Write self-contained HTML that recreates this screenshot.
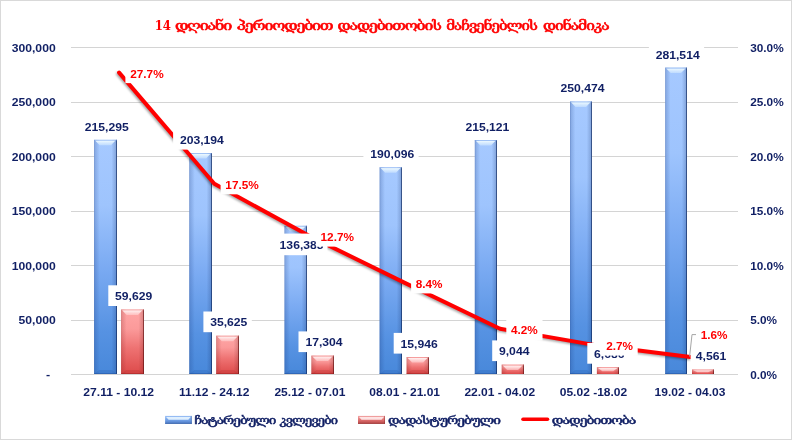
<!DOCTYPE html>
<html lang="ka"><head><meta charset="utf-8"><title>14 დღიანი პერიოდებით დადებითობის მაჩვენებლის დინამიკა</title>
<style>
html,body{margin:0;padding:0;background:#fff;}
body{width:792px;height:440px;overflow:hidden;}
svg{display:block;}
.n{font-family:"Liberation Sans",sans-serif;font-weight:bold;font-size:11.1px;fill:#101f64;}
.r{font-family:"Liberation Sans",sans-serif;font-weight:bold;font-size:11.1px;fill:#ff0000;}
</style></head><body>
<svg width="792" height="440" viewBox="0 0 792 440">
<defs>
<linearGradient id="gb" x1="0" y1="0" x2="0" y2="1">
<stop offset="0" stop-color="#a6c9ff"/><stop offset="0.28" stop-color="#9ec4fd"/><stop offset="0.55" stop-color="#7aaaf2"/><stop offset="0.82" stop-color="#5692e2"/><stop offset="1" stop-color="#4888da"/>
</linearGradient>
<linearGradient id="gr" x1="0" y1="0" x2="0" y2="1">
<stop offset="0" stop-color="#ffa6a6"/><stop offset="0.3" stop-color="#fb9a9a"/><stop offset="0.6" stop-color="#ee7272"/><stop offset="1" stop-color="#dd4a4a"/>
</linearGradient>
<linearGradient id="edge" x1="0" y1="0" x2="1" y2="0">
<stop offset="0" stop-color="#1a3a80" stop-opacity="0.42"/><stop offset="0.05" stop-color="#1a3a80" stop-opacity="0.2"/><stop offset="0.24" stop-color="#1a3a80" stop-opacity="0.0"/>
<stop offset="0.76" stop-color="#10285e" stop-opacity="0.0"/><stop offset="1" stop-color="#10285e" stop-opacity="0.26"/>
</linearGradient>
<linearGradient id="edger" x1="0" y1="0" x2="1" y2="0">
<stop offset="0" stop-color="#801a1a" stop-opacity="0.36"/><stop offset="0.05" stop-color="#801a1a" stop-opacity="0.18"/><stop offset="0.24" stop-color="#801a1a" stop-opacity="0.0"/>
<stop offset="0.76" stop-color="#5e1010" stop-opacity="0.0"/><stop offset="1" stop-color="#5e1010" stop-opacity="0.24"/>
</linearGradient>
<linearGradient id="hlb" x1="0" y1="0" x2="0" y2="1"><stop offset="0" stop-color="#f0fbff" stop-opacity="1"/><stop offset="1" stop-color="#d4eaff" stop-opacity="0.55"/></linearGradient>
<linearGradient id="hlr" x1="0" y1="0" x2="0" y2="1"><stop offset="0" stop-color="#fff4f4" stop-opacity="1"/><stop offset="1" stop-color="#ffd6d6" stop-opacity="0.55"/></linearGradient>
<filter id="sh" x="-5%" y="-5%" width="110%" height="110%"><feGaussianBlur stdDeviation="1"/></filter>
</defs>
<rect x="0" y="0" width="792" height="440" fill="#ffffff"/>
<rect x="0.5" y="0.5" width="791" height="439" fill="none" stroke="#d9d9d9" stroke-width="1"/>

<rect x="71" y="47" width="667" height="1" fill="#d4d4d4"/>
<rect x="71" y="102" width="667" height="1" fill="#d4d4d4"/>
<rect x="71" y="156" width="667" height="1" fill="#d4d4d4"/>
<rect x="71" y="211" width="667" height="1" fill="#d4d4d4"/>
<rect x="71" y="265" width="667" height="1" fill="#d4d4d4"/>
<rect x="71" y="320" width="667" height="1" fill="#d4d4d4"/>
<rect x="94.1" y="139.8" width="22.9" height="234.2" fill="url(#gb)"/><rect x="94.1" y="139.8" width="22.9" height="234.2" fill="url(#edge)"/><rect x="116.0" y="139.8" width="1" height="234.2" fill="#0c2358" fill-opacity="0.62"/><polygon points="95.1,140.6 115.5,140.6 111.0,145.3 99.6,145.3" fill="url(#hlb)"/><rect x="94.1" y="139.8" width="22.9" height="0.9" fill="#7fa6e6" fill-opacity="0.45"/><polygon points="94.6,374.0 116.5,374.0 112.0,370.0 99.1,370.0" fill="#1d4f9e" fill-opacity="0.18"/><rect x="94.1" y="373.1" width="22.9" height="0.9" fill="#1d4f9e" fill-opacity="0.5"/>
<rect x="121.1" y="309.5" width="22.9" height="64.5" fill="url(#gr)"/><rect x="121.1" y="309.5" width="22.9" height="64.5" fill="url(#edger)"/><rect x="143.0" y="309.5" width="1" height="64.5" fill="#5a0d0d" fill-opacity="0.62"/><polygon points="122.1,310.3 142.5,310.3 138.0,315.0 126.6,315.0" fill="url(#hlr)"/><rect x="121.1" y="309.5" width="22.9" height="0.9" fill="#e88a8a" fill-opacity="0.45"/><polygon points="121.6,374.0 143.5,374.0 139.0,370.0 126.1,370.0" fill="#9e1d1d" fill-opacity="0.18"/><rect x="121.1" y="373.1" width="22.9" height="0.9" fill="#9e1d1d" fill-opacity="0.5"/>
<rect x="189.3" y="153.0" width="22.7" height="221.0" fill="url(#gb)"/><rect x="189.3" y="153.0" width="22.7" height="221.0" fill="url(#edge)"/><rect x="211.0" y="153.0" width="1" height="221.0" fill="#0c2358" fill-opacity="0.62"/><polygon points="190.3,153.8 210.5,153.8 206.0,158.5 194.8,158.5" fill="url(#hlb)"/><rect x="189.3" y="153.0" width="22.7" height="0.9" fill="#7fa6e6" fill-opacity="0.45"/><polygon points="189.8,374.0 211.5,374.0 207.0,370.0 194.3,370.0" fill="#1d4f9e" fill-opacity="0.18"/><rect x="189.3" y="373.1" width="22.7" height="0.9" fill="#1d4f9e" fill-opacity="0.5"/>
<rect x="216.2" y="335.7" width="22.8" height="38.3" fill="url(#gr)"/><rect x="216.2" y="335.7" width="22.8" height="38.3" fill="url(#edger)"/><rect x="238.0" y="335.7" width="1" height="38.3" fill="#5a0d0d" fill-opacity="0.62"/><polygon points="217.2,336.5 237.5,336.5 233.0,341.2 221.8,341.2" fill="url(#hlr)"/><rect x="216.2" y="335.7" width="22.8" height="0.9" fill="#e88a8a" fill-opacity="0.45"/><polygon points="216.8,374.0 238.5,374.0 234.0,370.0 221.2,370.0" fill="#9e1d1d" fill-opacity="0.18"/><rect x="216.2" y="373.1" width="22.8" height="0.9" fill="#9e1d1d" fill-opacity="0.5"/>
<rect x="284.5" y="225.8" width="22.5" height="148.2" fill="url(#gb)"/><rect x="284.5" y="225.8" width="22.5" height="148.2" fill="url(#edge)"/><rect x="306.0" y="225.8" width="1" height="148.2" fill="#0c2358" fill-opacity="0.62"/><polygon points="285.5,226.6 305.5,226.6 301.0,231.3 290.0,231.3" fill="url(#hlb)"/><rect x="284.5" y="225.8" width="22.5" height="0.9" fill="#7fa6e6" fill-opacity="0.45"/><polygon points="285.0,374.0 306.5,374.0 302.0,370.0 289.5,370.0" fill="#1d4f9e" fill-opacity="0.18"/><rect x="284.5" y="373.1" width="22.5" height="0.9" fill="#1d4f9e" fill-opacity="0.5"/>
<rect x="311.4" y="355.6" width="22.6" height="18.4" fill="url(#gr)"/><rect x="311.4" y="355.6" width="22.6" height="18.4" fill="url(#edger)"/><rect x="333.0" y="355.6" width="1" height="18.4" fill="#5a0d0d" fill-opacity="0.62"/><polygon points="312.4,356.4 332.5,356.4 328.0,361.1 316.9,361.1" fill="url(#hlr)"/><rect x="311.4" y="355.6" width="22.6" height="0.9" fill="#e88a8a" fill-opacity="0.45"/><polygon points="311.9,374.0 333.5,374.0 329.0,370.0 316.4,370.0" fill="#9e1d1d" fill-opacity="0.18"/><rect x="311.4" y="373.1" width="22.6" height="0.9" fill="#9e1d1d" fill-opacity="0.5"/>
<rect x="379.6" y="167.3" width="22.4" height="206.7" fill="url(#gb)"/><rect x="379.6" y="167.3" width="22.4" height="206.7" fill="url(#edge)"/><rect x="401.0" y="167.3" width="1" height="206.7" fill="#0c2358" fill-opacity="0.62"/><polygon points="380.6,168.1 400.5,168.1 396.0,172.8 385.1,172.8" fill="url(#hlb)"/><rect x="379.6" y="167.3" width="22.4" height="0.9" fill="#7fa6e6" fill-opacity="0.45"/><polygon points="380.1,374.0 401.5,374.0 397.0,370.0 384.6,370.0" fill="#1d4f9e" fill-opacity="0.18"/><rect x="379.6" y="373.1" width="22.4" height="0.9" fill="#1d4f9e" fill-opacity="0.5"/>
<rect x="406.6" y="357.1" width="22.4" height="16.9" fill="url(#gr)"/><rect x="406.6" y="357.1" width="22.4" height="16.9" fill="url(#edger)"/><rect x="428.0" y="357.1" width="1" height="16.9" fill="#5a0d0d" fill-opacity="0.62"/><polygon points="407.6,357.9 427.5,357.9 423.0,362.6 412.1,362.6" fill="url(#hlr)"/><rect x="406.6" y="357.1" width="22.4" height="0.9" fill="#e88a8a" fill-opacity="0.45"/><polygon points="407.1,374.0 428.5,374.0 424.0,370.0 411.6,370.0" fill="#9e1d1d" fill-opacity="0.18"/><rect x="406.6" y="373.1" width="22.4" height="0.9" fill="#9e1d1d" fill-opacity="0.5"/>
<rect x="474.8" y="140.0" width="22.2" height="234.0" fill="url(#gb)"/><rect x="474.8" y="140.0" width="22.2" height="234.0" fill="url(#edge)"/><rect x="496.0" y="140.0" width="1" height="234.0" fill="#0c2358" fill-opacity="0.62"/><polygon points="475.8,140.8 495.5,140.8 491.0,145.5 480.3,145.5" fill="url(#hlb)"/><rect x="474.8" y="140.0" width="22.2" height="0.9" fill="#7fa6e6" fill-opacity="0.45"/><polygon points="475.3,374.0 496.5,374.0 492.0,370.0 479.8,370.0" fill="#1d4f9e" fill-opacity="0.18"/><rect x="474.8" y="373.1" width="22.2" height="0.9" fill="#1d4f9e" fill-opacity="0.5"/>
<rect x="501.7" y="364.6" width="22.3" height="9.4" fill="url(#gr)"/><rect x="501.7" y="364.6" width="22.3" height="9.4" fill="url(#edger)"/><rect x="523.0" y="364.6" width="1" height="9.4" fill="#5a0d0d" fill-opacity="0.62"/><polygon points="502.7,365.4 522.5,365.4 518.0,370.1 507.2,370.1" fill="url(#hlr)"/><rect x="501.7" y="364.6" width="22.3" height="0.9" fill="#e88a8a" fill-opacity="0.45"/>
<rect x="570.0" y="101.5" width="22.0" height="272.5" fill="url(#gb)"/><rect x="570.0" y="101.5" width="22.0" height="272.5" fill="url(#edge)"/><rect x="591.0" y="101.5" width="1" height="272.5" fill="#0c2358" fill-opacity="0.62"/><polygon points="571.0,102.3 590.5,102.3 586.0,107.0 575.5,107.0" fill="url(#hlb)"/><rect x="570.0" y="101.5" width="22.0" height="0.9" fill="#7fa6e6" fill-opacity="0.45"/><polygon points="570.5,374.0 591.5,374.0 587.0,370.0 575.0,370.0" fill="#1d4f9e" fill-opacity="0.18"/><rect x="570.0" y="373.1" width="22.0" height="0.9" fill="#1d4f9e" fill-opacity="0.5"/>
<rect x="596.9" y="367.2" width="22.1" height="6.8" fill="url(#gr)"/><rect x="596.9" y="367.2" width="22.1" height="6.8" fill="url(#edger)"/><rect x="618.0" y="367.2" width="1" height="6.8" fill="#5a0d0d" fill-opacity="0.62"/><polygon points="597.9,368.0 617.5,368.0 613.0,371.3 602.4,371.3" fill="url(#hlr)"/><rect x="596.9" y="367.2" width="22.1" height="0.9" fill="#e88a8a" fill-opacity="0.45"/>
<rect x="665.2" y="67.6" width="21.8" height="306.4" fill="url(#gb)"/><rect x="665.2" y="67.6" width="21.8" height="306.4" fill="url(#edge)"/><rect x="686.0" y="67.6" width="1" height="306.4" fill="#0c2358" fill-opacity="0.62"/><polygon points="666.2,68.4 685.5,68.4 681.0,73.1 670.7,73.1" fill="url(#hlb)"/><rect x="665.2" y="67.6" width="21.8" height="0.9" fill="#7fa6e6" fill-opacity="0.45"/><polygon points="665.7,374.0 686.5,374.0 682.0,370.0 670.2,370.0" fill="#1d4f9e" fill-opacity="0.18"/><rect x="665.2" y="373.1" width="21.8" height="0.9" fill="#1d4f9e" fill-opacity="0.5"/>
<rect x="692.0" y="369.5" width="22.0" height="4.5" fill="url(#gr)"/><rect x="692.0" y="369.5" width="22.0" height="4.5" fill="url(#edger)"/><rect x="713.0" y="369.5" width="1" height="4.5" fill="#5a0d0d" fill-opacity="0.62"/><polygon points="693.0,370.3 712.5,370.3 708.0,372.2 697.5,372.2" fill="url(#hlr)"/><rect x="692.0" y="369.5" width="22.0" height="0.9" fill="#e88a8a" fill-opacity="0.45"/>
<rect x="71" y="374" width="667" height="1" fill="#d4d4d4"/>
<polyline points="119.1,72.6 214.3,183.8 309.5,236.1 404.8,282.9 500.0,328.7 595.2,345.1 690.4,357.1" transform="translate(-1.2,1.4)" fill="none" stroke="#000" stroke-opacity="0.35" stroke-width="3.6" stroke-linecap="round" stroke-linejoin="round" filter="url(#sh)"/>
<polyline points="119.1,72.6 214.3,183.8 309.5,236.1 404.8,282.9 500.0,328.7 595.2,345.1 690.4,357.1" fill="none" stroke="#ff0000" stroke-width="4" stroke-linecap="round" stroke-linejoin="round"/>
<rect x="78.0" y="115.7" width="55.2" height="20.7" fill="#fff"/><text class="n" x="106.8" y="130.7" text-anchor="middle" textLength="44.0" lengthAdjust="spacingAndGlyphs">215,295</text>
<rect x="173.1" y="128.9" width="55.2" height="20.7" fill="#fff"/><text class="n" x="201.9" y="143.9" text-anchor="middle" textLength="44.0" lengthAdjust="spacingAndGlyphs">203,194</text>
<rect x="275.8" y="233.6" width="51.6" height="21.6" fill="#fff"/><text class="n" x="301.6" y="248.6" text-anchor="middle" textLength="44.0" lengthAdjust="spacingAndGlyphs">136,383</text>
<rect x="363.4" y="143.2" width="55.2" height="20.7" fill="#fff"/><text class="n" x="392.3" y="158.2" text-anchor="middle" textLength="44.0" lengthAdjust="spacingAndGlyphs">190,096</text>
<rect x="458.6" y="115.9" width="55.2" height="20.7" fill="#fff"/><text class="n" x="487.4" y="130.9" text-anchor="middle" textLength="44.0" lengthAdjust="spacingAndGlyphs">215,121</text>
<rect x="553.7" y="77.4" width="55.2" height="20.7" fill="#fff"/><text class="n" x="582.5" y="92.4" text-anchor="middle" textLength="44.0" lengthAdjust="spacingAndGlyphs">250,474</text>
<rect x="648.9" y="43.5" width="55.2" height="20.7" fill="#fff"/><text class="n" x="677.7" y="58.5" text-anchor="middle" textLength="44.0" lengthAdjust="spacingAndGlyphs">281,514</text>
<rect x="108.3" y="285.3" width="48.4" height="20.7" fill="#fff"/><text class="n" x="133.7" y="300.2" text-anchor="middle" textLength="37.2" lengthAdjust="spacingAndGlyphs">59,629</text>
<rect x="203.4" y="311.5" width="48.4" height="20.7" fill="#fff"/><text class="n" x="228.8" y="326.4" text-anchor="middle" textLength="37.2" lengthAdjust="spacingAndGlyphs">35,625</text>
<rect x="298.5" y="331.4" width="48.4" height="20.7" fill="#fff"/><text class="n" x="324.0" y="346.3" text-anchor="middle" textLength="37.2" lengthAdjust="spacingAndGlyphs">17,304</text>
<rect x="393.7" y="332.9" width="48.4" height="20.7" fill="#fff"/><text class="n" x="419.1" y="347.8" text-anchor="middle" textLength="37.2" lengthAdjust="spacingAndGlyphs">15,946</text>
<rect x="492.2" y="340.4" width="41.7" height="20.7" fill="#fff"/><text class="n" x="514.2" y="355.3" text-anchor="middle" textLength="30.5" lengthAdjust="spacingAndGlyphs">9,044</text>
<rect x="587.3" y="343.0" width="41.7" height="20.7" fill="#fff"/><text class="n" x="609.3" y="357.9" text-anchor="middle" textLength="30.5" lengthAdjust="spacingAndGlyphs">6,686</text>
<rect x="690.6" y="345.3" width="41.7" height="20.7" fill="#fff"/><text class="n" x="711.1" y="360.2" text-anchor="middle" textLength="30.5" lengthAdjust="spacingAndGlyphs">4,561</text>
<polyline points="689.6,356.5 692,334.6 697,334.6" fill="none" stroke="#a6a6a6" stroke-width="1"/>
<rect x="125.4" y="62.5" width="42.9" height="20.6" fill="#fff"/><text class="r" x="146.9" y="77.8" text-anchor="middle" textLength="33.5" lengthAdjust="spacingAndGlyphs">27.7%</text>
<rect x="220.6" y="173.7" width="42.9" height="20.6" fill="#fff"/><text class="r" x="242.1" y="189.0" text-anchor="middle" textLength="33.5" lengthAdjust="spacingAndGlyphs">17.5%</text>
<rect x="315.8" y="226.0" width="42.9" height="20.6" fill="#fff"/><text class="r" x="337.3" y="241.3" text-anchor="middle" textLength="33.5" lengthAdjust="spacingAndGlyphs">12.7%</text>
<rect x="411.1" y="272.8" width="36.2" height="20.6" fill="#fff"/><text class="r" x="429.1" y="288.1" text-anchor="middle" textLength="26.8" lengthAdjust="spacingAndGlyphs">8.4%</text>
<rect x="506.3" y="318.6" width="36.2" height="21.9" fill="#fff"/><text class="r" x="524.4" y="333.9" text-anchor="middle" textLength="26.8" lengthAdjust="spacingAndGlyphs">4.2%</text>
<rect x="601.5" y="335.0" width="36.2" height="20.6" fill="#fff"/><text class="r" x="619.6" y="350.3" text-anchor="middle" textLength="26.8" lengthAdjust="spacingAndGlyphs">2.7%</text>
<rect x="696.0" y="323.7" width="36.2" height="20.6" fill="#fff"/><text class="r" x="714.1" y="339.0" text-anchor="middle" textLength="26.8" lengthAdjust="spacingAndGlyphs">1.6%</text>
<text class="n" x="48.1" y="378.3" text-anchor="middle" textLength="4.2" lengthAdjust="spacingAndGlyphs">-</text>
<text class="n" x="55.7" y="324.2" text-anchor="end" textLength="37.2" lengthAdjust="spacingAndGlyphs">50,000</text>
<text class="n" x="55.7" y="269.7" text-anchor="end" textLength="44.0" lengthAdjust="spacingAndGlyphs">100,000</text>
<text class="n" x="55.7" y="215.2" text-anchor="end" textLength="44.0" lengthAdjust="spacingAndGlyphs">150,000</text>
<text class="n" x="55.7" y="160.7" text-anchor="end" textLength="44.0" lengthAdjust="spacingAndGlyphs">200,000</text>
<text class="n" x="55.7" y="106.2" text-anchor="end" textLength="44.0" lengthAdjust="spacingAndGlyphs">250,000</text>
<text class="n" x="55.7" y="51.7" text-anchor="end" textLength="44.0" lengthAdjust="spacingAndGlyphs">300,000</text>
<text class="n" x="750.2" y="378.7" textLength="26.8" lengthAdjust="spacingAndGlyphs">0.0%</text>
<text class="n" x="750.2" y="324.2" textLength="26.8" lengthAdjust="spacingAndGlyphs">5.0%</text>
<text class="n" x="750.2" y="269.7" textLength="33.5" lengthAdjust="spacingAndGlyphs">10.0%</text>
<text class="n" x="750.2" y="215.2" textLength="33.5" lengthAdjust="spacingAndGlyphs">15.0%</text>
<text class="n" x="750.2" y="160.7" textLength="33.5" lengthAdjust="spacingAndGlyphs">20.0%</text>
<text class="n" x="750.2" y="106.2" textLength="33.5" lengthAdjust="spacingAndGlyphs">25.0%</text>
<text class="n" x="750.2" y="51.7" textLength="33.5" lengthAdjust="spacingAndGlyphs">30.0%</text>
<text class="n" x="118.7" y="396" text-anchor="middle" textLength="70.8" lengthAdjust="spacingAndGlyphs">27.11 - 10.12</text>
<text class="n" x="214.2" y="396" text-anchor="middle" textLength="70.3" lengthAdjust="spacingAndGlyphs">11.12 - 24.12</text>
<text class="n" x="309.9" y="396" text-anchor="middle" textLength="71.0" lengthAdjust="spacingAndGlyphs">25.12 - 07.01</text>
<text class="n" x="404.7" y="396" text-anchor="middle" textLength="70.7" lengthAdjust="spacingAndGlyphs">08.01 - 21.01</text>
<text class="n" x="499.8" y="396" text-anchor="middle" textLength="70.8" lengthAdjust="spacingAndGlyphs">22.01 - 04.02</text>
<text class="n" x="593.5" y="396" text-anchor="middle" textLength="67.5" lengthAdjust="spacingAndGlyphs">05.02 -18.02</text>
<text class="n" x="690.0" y="396" text-anchor="middle" textLength="70.9" lengthAdjust="spacingAndGlyphs">19.02 - 04.03</text>
<text x="154.7" y="29.6" style="font-family:'DejaVu Serif',serif;font-weight:bold;font-size:13.7px;fill:#ff0000" textLength="16.3" lengthAdjust="spacingAndGlyphs">14</text>
<text transform="translate(174.9,29.6) scale(1.350,1)" style="font-family:'DejaVu Serif','DejaVu Sans',serif;font-size:12.0px;fill:#ff0000;stroke:#ff0000;stroke-width:0.55px" textLength="42.5" lengthAdjust="spacing">დღიანი</text>
<text transform="translate(236.8,29.6) scale(1.334,1)" style="font-family:'DejaVu Serif','DejaVu Sans',serif;font-size:12.0px;fill:#ff0000;stroke:#ff0000;stroke-width:0.55px" textLength="72.6" lengthAdjust="spacing">პერიოდებით</text>
<text transform="translate(337.6,29.6) scale(1.317,1)" style="font-family:'DejaVu Serif','DejaVu Sans',serif;font-size:12.0px;fill:#ff0000;stroke:#ff0000;stroke-width:0.55px" textLength="79.1" lengthAdjust="spacing">დადებითობის</text>
<text transform="translate(446.3,29.6) scale(1.252,1)" style="font-family:'DejaVu Serif','DejaVu Sans',serif;font-size:12.0px;fill:#ff0000;stroke:#ff0000;stroke-width:0.55px" textLength="73.2" lengthAdjust="spacing">მაჩვენებლის</text>
<text transform="translate(543.1,29.6) scale(1.298,1)" style="font-family:'DejaVu Serif','DejaVu Sans',serif;font-size:12.0px;fill:#ff0000;stroke:#ff0000;stroke-width:0.55px" textLength="51.3" lengthAdjust="spacing">დინამიკა</text>
<linearGradient id="swb" x1="0" y1="0" x2="0" y2="1"><stop offset="0" stop-color="#9cc0f6"/><stop offset="0.55" stop-color="#6f9fe6"/><stop offset="1" stop-color="#4a76c0"/></linearGradient><rect x="165.1" y="415.9" width="26.7" height="8" fill="url(#swb)"/><polygon points="166.1,416.9 190.6,416.9 188.29999999999998,419.7 168.6,419.7" fill="#e6f4ff" fill-opacity="0.92"/><rect x="190.79999999999998" y="415.9" width="1" height="8" fill="#2d5596" fill-opacity="0.45"/><rect x="165.1" y="422.9" width="26.7" height="1" fill="#2d5596" fill-opacity="0.4"/>
<linearGradient id="swr" x1="0" y1="0" x2="0" y2="1"><stop offset="0" stop-color="#f3a6a6"/><stop offset="0.55" stop-color="#dc6c6c"/><stop offset="1" stop-color="#b24646"/></linearGradient><rect x="358.0" y="415.9" width="27.0" height="8" fill="url(#swr)"/><polygon points="359.0,416.9 383.8,416.9 381.5,419.7 361.5,419.7" fill="#ffeaea" fill-opacity="0.92"/><rect x="384.0" y="415.9" width="1" height="8" fill="#8c2c2c" fill-opacity="0.45"/><rect x="358.0" y="422.9" width="27.0" height="1" fill="#8c2c2c" fill-opacity="0.4"/>
<line x1="523" y1="419.2" x2="547.5" y2="419.2" stroke="#ff0000" stroke-width="3.6" stroke-linecap="round"/>
<text transform="translate(194.2,423.7) scale(1.275,1)" style="font-family:'DejaVu Serif','DejaVu Sans',serif;font-size:10.7px;fill:#101f64;stroke:#101f64;stroke-width:0.5px" textLength="64.5" lengthAdjust="spacing">ჩატარებული</text>
<text transform="translate(279.6,423.7) scale(1.216,1)" style="font-family:'DejaVu Serif','DejaVu Sans',serif;font-size:10.7px;fill:#101f64;stroke:#101f64;stroke-width:0.5px" textLength="48.0" lengthAdjust="spacing">კვლევები</text>
<text transform="translate(388,423.7) scale(1.292,1)" style="font-family:'DejaVu Serif','DejaVu Sans',serif;font-size:10.7px;fill:#101f64;stroke:#101f64;stroke-width:0.5px" textLength="87.4" lengthAdjust="spacing">დადასტურებული</text>
<text transform="translate(551.8,423.7) scale(1.312,1)" style="font-family:'DejaVu Serif','DejaVu Sans',serif;font-size:10.7px;fill:#101f64;stroke:#101f64;stroke-width:0.5px" textLength="64.5" lengthAdjust="spacing">დადებითობა</text>
</svg></body></html>
